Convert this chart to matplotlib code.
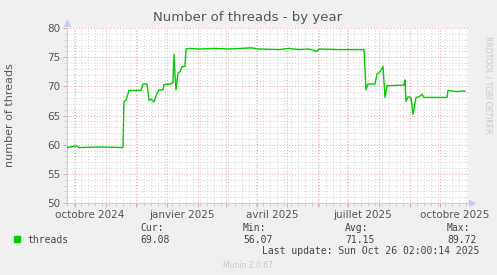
import matplotlib
matplotlib.use('Agg')
import matplotlib.pyplot as plt
import matplotlib.dates as mdates
import pandas as pd

# readings taken off the graph (date, number of threads)
dates = ['2024-09-23', '2024-10-03', '2024-10-05', '2024-10-26', '2024-11-18',
         '2024-11-19', '2024-11-21', '2024-11-24', '2024-12-06', '2024-12-08',
         '2024-12-12', '2024-12-14', '2024-12-16', '2024-12-19', '2024-12-22',
         '2024-12-24', '2024-12-28', '2024-12-29', '2025-01-04', '2025-01-07',
         '2025-01-08', '2025-01-09', '2025-01-10', '2025-01-12', '2025-01-14',
         '2025-01-16', '2025-01-19', '2025-01-20', '2025-01-23', '2025-02-02',
         '2025-02-17', '2025-03-04', '2025-03-26', '2025-04-03', '2025-04-23',
         '2025-05-03', '2025-05-13', '2025-05-23', '2025-05-31', '2025-06-02',
         '2025-06-22', '2025-07-17', '2025-07-19', '2025-07-21', '2025-07-28',
         '2025-07-30', '2025-08-02', '2025-08-05', '2025-08-07', '2025-08-09',
         '2025-08-22', '2025-08-26', '2025-08-27', '2025-08-28', '2025-08-30',
         '2025-09-02', '2025-09-04', '2025-09-07', '2025-09-10', '2025-09-13',
         '2025-09-15', '2025-10-08', '2025-10-09', '2025-10-17', '2025-10-26']
threads = [59.5, 59.8, 59.5, 59.6, 59.5,
           67.4, 67.6, 69.3, 69.3, 70.4,
           70.4, 67.6, 67.8, 67.3, 68.8,
           69.4, 69.4, 70.3, 70.4, 70.6,
           75.5, 72.0, 69.4, 72.3, 72.5,
           73.4, 73.4, 76.4, 76.5, 76.4,
           76.5, 76.4, 76.6, 76.4, 76.3,
           76.5, 76.3, 76.4, 76.0, 76.4,
           76.3, 76.3, 69.4, 70.4, 70.4,
           72.1, 72.5, 73.4, 68.1, 70.1,
           70.2, 70.2, 71.1, 67.4, 68.2,
           68.1, 65.2, 68.1, 68.2, 68.65,
           68.1, 68.1, 69.3, 69.1, 69.2]

label_dates = ['2024-10-16', '2025-01-16', '2025-04-16', '2025-07-16', '2025-10-16']
label_text = ['octobre 2024', 'janvier 2025', 'avril 2025', 'juillet 2025', 'octobre 2025']

stat_names = ['Cur:', 'Min:', 'Avg:', 'Max:']
stat_values = ['69.08', '56.07', '71.15', '89.72']

W, H = 497, 275
fig = plt.figure(figsize=(W / 100, H / 100), dpi=100, facecolor='#f0f0f0')
ax = fig.add_axes([67 / W, 1 - 203 / H, 401 / W, 175 / H], facecolor='white')

t = pd.to_datetime(dates)
ax.plot(t, threads, color='#00cc00', linewidth=1.0, zorder=5)

ax.set_xlim(pd.Timestamp('2024-09-23'), pd.Timestamp('2025-10-29'))
ax.set_ylim(50, 80)

# grid: weekly minor (grey), monthly major (red)
ax.xaxis.set_major_locator(mdates.MonthLocator())
ax.xaxis.set_minor_locator(mdates.WeekdayLocator(byweekday=mdates.MO))
ax.xaxis.set_major_formatter(plt.NullFormatter())
ax.set_yticks(range(50, 81, 5))
ax.set_yticks(range(50, 81, 1), minor=True)

dot = (0, (1, 2))
ax.grid(which='minor', color='#d2d2d2', linestyle=dot, linewidth=0.7, zorder=1)
ax.grid(which='major', color='#e7a2a2', linestyle=dot, linewidth=0.7, zorder=2)
ax.set_axisbelow(True)

ax.tick_params(which='major', axis='x', length=3, color='#e7a2a2', width=0.7)
ax.tick_params(which='minor', axis='x', length=2, color='#cccccc', width=0.7)
ax.tick_params(which='major', axis='y', length=3, color='#e7a2a2', width=0.7,
               labelsize=7.5, labelcolor='#555555', pad=2)
ax.tick_params(which='minor', axis='y', length=2, color='#cccccc', width=0.7)

for d, s in zip(label_dates, label_text):
    ax.text(pd.Timestamp(d), -0.04, s, transform=ax.get_xaxis_transform(),
            ha='center', va='top', fontsize=7.5, color='#555555')

for side in ['top', 'right']:
    ax.spines[side].set_visible(False)
for side in ['left', 'bottom']:
    ax.spines[side].set_color('#c9cdf2')
    ax.spines[side].set_linewidth(0.8)
ax.plot(0, 1.03, marker='^', color='#c9cdf2', markersize=5,
        transform=ax.transAxes, clip_on=False)
ax.plot(1.01, 0, marker='>', color='#c9cdf2', markersize=5,
        transform=ax.transAxes, clip_on=False)

fig.text(248 / W, 1 - 18 / H, 'Number of threads - by year', ha='center', va='center',
         fontsize=9.5, color='#555555')
fig.text(10 / W, 1 - 115 / H, 'number of threads', rotation=90, ha='center', va='center',
         fontsize=8, color='#555555')
fig.text(488 / W, 1 - 85 / H, 'RRDTOOL / TOBI OETIKER', rotation=270, ha='center',
         va='center', fontsize=5.5, color='#c8c8c8')

# legend block
mono = 'DejaVu Sans Mono'
fig.patches.append(plt.Rectangle((14 / W, 1 - 242 / H), 6 / W, 6 / H, color='#00cc00',
                                 transform=fig.transFigure, figure=fig))
fig.text(27 / W, 1 - 240 / H, 'threads', family=mono, fontsize=7, color='#444444',
         va='center')
for i, (n, v) in enumerate(zip(stat_names, stat_values)):
    x = [140, 243, 345, 447][i] / W
    fig.text(x, 1 - 228 / H, n, family=mono, fontsize=7, color='#444444', va='center')
    fig.text(x, 1 - 240 / H, v, family=mono, fontsize=7, color='#444444', va='center')
fig.text(262 / W, 1 - 251 / H, 'Last update: Sun Oct 26 02:00:14 2025', family=mono,
         fontsize=7, color='#444444', va='center')
fig.text(248 / W, 1 - 265 / H, 'Munin 2.0.67', ha='center', va='center',
         fontsize=5.5, color='#c8c8c8')

fig.savefig('out.png', dpi=100, facecolor=fig.get_facecolor())
